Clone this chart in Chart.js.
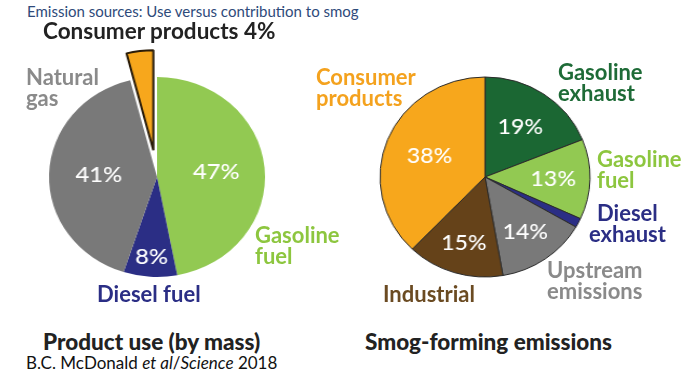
<!DOCTYPE html>
<html><head><meta charset="utf-8">
<script src="https://cdn.jsdelivr.net/npm/chart.js@4.4.1/dist/chart.umd.min.js"></script>
<style>
html,body{margin:0;padding:0;background:#fff}
body{width:700px;height:374px;position:relative;overflow:hidden;font-family:Lato,"Open Sans",sans-serif}
.wrap{position:absolute}
.lbl{position:absolute;font-weight:700;white-space:nowrap;line-height:21px;font-size:22px}
.t{position:absolute;white-space:nowrap}
</style></head><body>
<div class="t" id="title" style="left:27px;top:2px;font-size:15px;color:#2e4a7a;">Emission sources: Use versus contribution to smog</div>
<div class="wrap" id="w1" style="left:7px;top:27px;width:300px;height:300px;transform:scaleX(1.08);transform-origin:150px 150px"><canvas id="c1" width="300" height="300"></canvas></div>
<div class="wrap" id="w2" style="left:365px;top:57px;width:240px;height:240px;transform:scaleX(1.05);transform-origin:120px 120px"><canvas id="c2" width="240" height="240"></canvas></div>
<div id="labels"></div>
<div class="t" style="left:43px;top:328px;font-size:22.5px;font-weight:900;color:#222">Product use (by mass)</div>
<div class="t" style="left:365px;top:328px;font-size:22.5px;font-weight:900;color:#222">Smog-forming emissions</div>
<div class="t" style="left:26px;top:352px;font-size:17px;color:#111">B.C. McDonald <i>et al</i>/<i>Science</i> 2018</div>
<script>
// ---- data ----
const useCategories = ['Gasoline fuel', 'Diesel fuel', 'Natural gas', 'Consumer products'];
const useValues = [47, 8, 41, 4];
const useLabels = ['47%', '8%', '41%', ''];

const smogCategories = ['Gasoline exhaust', 'Gasoline fuel', 'Diesel exhaust', 'Upstream emissions', 'Industrial', 'Consumer products'];
const smogValues = [19, 13, 1.5, 14, 15, 38];
const smogLabels = ['19%', '13%', '', '14%', '15%', '38%'];

// ---- styles ----
const C = {lgreen:'#92c952', navy:'#2b2e85', grey:'#797979', orange:'#f7a71c', dgreen:'#1b6733', brown:'#654219'};

// draws each arc through the library, translating "exploded" slices outward
const shiftPlugin = {
  id: 'shift',
  beforeDatasetDraw(chart, args, opts) {
    if (!opts || !opts.shift) return;
    const ctx = chart.ctx;
    args.meta.data.forEach((arc, i) => {
      const s = opts.shift[i] || 0;
      ctx.save();
      if (s) {
        const mid = (arc.startAngle + arc.endAngle) / 2;
        ctx.translate(Math.cos(mid) * s, Math.sin(mid) * s);
      }
      arc.draw(ctx, chart.chartArea);
      ctx.restore();
    });
    return false;
  }
};

const pctPlugin = {
  id: 'pct',
  afterDatasetsDraw(chart, args, opts) {
    const ctx = chart.ctx;
    const meta = chart.getDatasetMeta(0);
    meta.data.forEach((arc, i) => {
      const t = opts.labels[i];
      if (!t) return;
      const p = arc.getProps(['x', 'y', 'startAngle', 'endAngle', 'outerRadius'], true);
      const mid = (p.startAngle + p.endAngle) / 2;
      const r = p.outerRadius * opts.radii[i];
      ctx.save();
      ctx.fillStyle = '#fff';
      ctx.font = '500 22px Lato, sans-serif';
      ctx.textAlign = 'center';
      ctx.textBaseline = 'middle';
      ctx.fillText(t, p.x + Math.cos(mid) * r, p.y + Math.sin(mid) * r);
      ctx.restore();
    });
  }
};

function pie(id, values, cats, colors, borderColors, borderWidths, shift, labels, radii) {
  return new Chart(document.getElementById(id), {
    type: 'pie',
    data: {
      labels: cats,
      datasets: [{
        data: values,
        backgroundColor: colors,
        borderColor: borderColors,
        borderWidth: borderWidths
      }]
    },
    options: {
      responsive: false,
      animation: false,
      radius: 100,
      layout: {padding: 0},
      plugins: {
        legend: {display: false},
        tooltip: {enabled: false},
        shift: {shift: shift},
        pct: {labels: labels, radii: radii}
      }
    },
    plugins: [shiftPlugin, pctPlugin]
  });
}

pie('c1', useValues, useCategories,
  [C.lgreen, C.navy, C.grey, C.orange],
  ['#fff', '#fff', '#fff', '#2a1c08'],
  [0, 0, 0, 2],
  [0, 0, 0, 27],
  useLabels, [0.55, 0.8, 0.54, 0]);

pie('c2', smogValues, smogCategories,
  [C.dgreen, C.lgreen, C.navy, C.grey, C.brown, C.orange],
  '#2a2a2a', 1,
  null,
  smogLabels, [0.6, 0.65, 0, 0.67, 0.69, 0.57]);

// ---- category text labels ----
const textLayout = [
  {cats: useCategories, i: 3, x: 43, y: 20, color: '#222', suffix: ' ' + useValues[3] + '%', brk: false, size: 22.5},
  {cats: useCategories, i: 2, x: 26, y: 66, color: '#8a8a8a', brk: true},
  {cats: useCategories, i: 0, x: 255, y: 224, color: '#8dc63f', brk: true},
  {cats: useCategories, i: 1, x: 97, y: 283, color: '#2b2e85', brk: false},
  {cats: smogCategories, i: 5, x: 316, y: 66, color: '#f4a21e', brk: true},
  {cats: smogCategories, i: 0, x: 558, y: 61, color: '#1e6b37', brk: true},
  {cats: smogCategories, i: 1, x: 597, y: 148, color: '#8dc63f', brk: true},
  {cats: smogCategories, i: 2, x: 589, y: 202, color: '#2b2e85', brk: true, center: true},
  {cats: smogCategories, i: 3, x: 547, y: 259, color: '#8a8a8a', brk: true},
  {cats: smogCategories, i: 4, x: 383, y: 283, color: '#6b4b22', brk: false}
];
const holder = document.getElementById('labels');
textLayout.forEach(L => {
  const d = document.createElement('div');
  d.className = 'lbl';
  d.style.left = L.x + 'px';
  d.style.top = L.y + 'px';
  d.style.color = L.color;
  if (L.size) d.style.fontSize = L.size + 'px';
  if (L.center) d.style.textAlign = 'center';
  const name = L.cats[L.i];
  const parts = L.brk ? name.split(' ') : [name];
  parts.forEach((p, k) => {
    if (k) d.appendChild(document.createElement('br'));
    d.appendChild(document.createTextNode(p + (k === parts.length - 1 && L.suffix ? L.suffix : '')));
  });
  holder.appendChild(d);
});
</script>
</body></html>
